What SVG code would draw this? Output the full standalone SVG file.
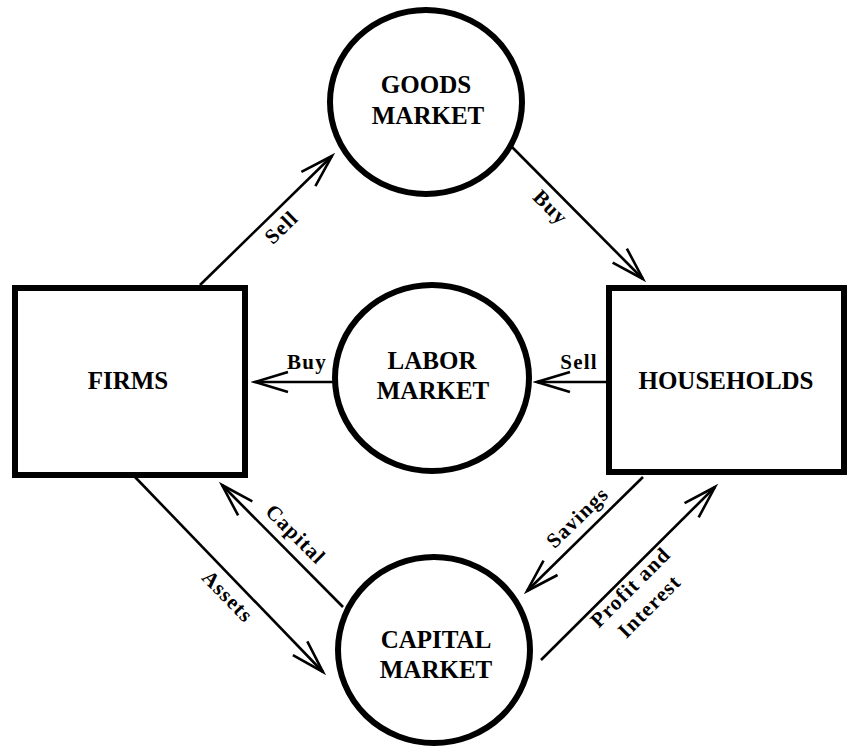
<svg xmlns="http://www.w3.org/2000/svg" width="847" height="756" viewBox="0 0 847 756">
  <style>
    .node { fill: #fff; stroke: #000; stroke-width: 6; }
    .title { font-family: "Liberation Serif", "Times New Roman", serif; font-weight: bold; font-size: 25px; fill: #000; text-anchor: middle; }
    .flow { stroke: #000; stroke-width: 2.6; fill: none; marker-end: url(#arrow); }
    .lbl { font-family: "Liberation Serif", "Times New Roman", serif; font-weight: bold; font-size: 21px; letter-spacing: 1.2px; fill: #000; text-anchor: middle; }
  </style>
  <defs>
    <marker id="arrow" markerUnits="userSpaceOnUse" markerWidth="40" markerHeight="30" viewBox="-36 -14 40 28" refX="0" refY="0" orient="auto">
      <path d="M-33,-10 L0,0 L-33,10" fill="none" stroke="#000" stroke-width="2.6" stroke-linejoin="miter"/>
    </marker>
  </defs>
  <rect width="847" height="756" fill="#fff"/>

  <!-- flows between sectors and markets -->
  <g id="connectors">
    <line class="flow" x1="200" y1="285" x2="332" y2="156"/>
    <line class="flow" x1="512" y1="147" x2="643" y2="279"/>
    <line class="flow" x1="333" y1="382" x2="255" y2="382"/>
    <line class="flow" x1="606" y1="382" x2="537" y2="382"/>
    <line class="flow" x1="343" y1="607" x2="222" y2="485"/>
    <line class="flow" x1="135" y1="477" x2="323" y2="672"/>
    <line class="flow" x1="643" y1="477" x2="527" y2="591"/>
    <line class="flow" x1="541" y1="660" x2="715" y2="487"/>

    <g transform="translate(282,228) rotate(-44)"><text class="lbl" x="0" y="6">Sell</text></g>
    <g transform="translate(550,208) rotate(45)"><text class="lbl" x="0" y="6">Buy</text></g>
    <text class="lbl" x="307" y="369">Buy</text>
    <text class="lbl" x="579" y="369">Sell</text>
    <g transform="translate(295,535) rotate(45)"><text class="lbl" x="0" y="6">Capital</text></g>
    <g transform="translate(227,597) rotate(46)"><text class="lbl" x="0" y="6">Assets</text></g>
    <g transform="translate(578,518) rotate(-44)"><text class="lbl" x="0" y="6">Savings</text></g>
    <g transform="translate(631,588) rotate(-45)"><text class="lbl" x="0" y="6">Profit and</text></g>
    <g transform="translate(650,607) rotate(-45)"><text class="lbl" x="0" y="6">Interest</text></g>
  </g>

  <g id="goods-market">
    <ellipse class="node" cx="426" cy="102" rx="96" ry="92"/>
    <text class="title" x="426" y="93">GOODS</text>
    <text class="title" x="428" y="124">MARKET</text>
  </g>

  <g id="labor-market">
    <ellipse class="node" cx="432" cy="378" rx="97" ry="93"/>
    <text class="title" x="432" y="369">LABOR</text>
    <text class="title" x="433" y="399">MARKET</text>
  </g>

  <g id="capital-market">
    <ellipse class="node" cx="434" cy="650" rx="96" ry="93"/>
    <text class="title" x="436" y="648">CAPITAL</text>
    <text class="title" x="436" y="678">MARKET</text>
  </g>

  <g id="firms">
    <rect class="node" x="15" y="288" width="230" height="187"/>
    <text class="title" x="128" y="389">FIRMS</text>
  </g>

  <g id="households">
    <rect class="node" x="609" y="288" width="235" height="184"/>
    <text class="title" x="726" y="389">HOUSEHOLDS</text>
  </g>
</svg>
